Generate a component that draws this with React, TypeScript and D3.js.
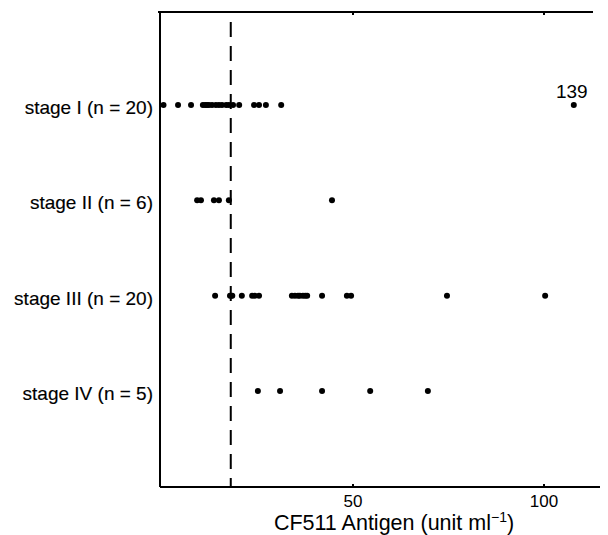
import React from "react";
import * as d3 from "d3";

const stages = ["stage I (n = 20)", "stage II (n = 6)", "stage III (n = 20)", "stage IV (n = 5)"];
const stageI = [0.4, 4.2, 7.6, 10.7, 11.3, 11.8, 12.3, 13.1, 14.1, 14.9, 15.7, 16.8, 17.5, 18.6, 20.2, 24.1, 25.4, 27.2, 31.2, 139];
const stageII = [9.2, 10.2, 13.6, 14.9, 17.5, 44.5];
const stageIII = [13.9, 17.8, 18.1, 18.4, 20.9, 23.6, 24.3, 25.4, 34.0, 34.8, 35.6, 36.1, 36.9, 37.5, 38.0, 41.9, 48.4, 49.5, 74.6, 100.3];
const stageIV = [25.1, 30.9, 41.9, 54.5, 69.6];
const seriesValues = [stageI, stageII, stageIII, stageIV];
const xTicks = [50, 100];
const cutoff = 18;
const axisMax = 115;
const offScaleShownAt = 107.8;
const xLabel = "CF511 Antigen (unit ml";

export default function App() {
  const W = 608, H = 535;
  const x = d3.scaleLinear().domain([0, 100]).range([162, 544]);
  const y = d3.scalePoint<string>().domain(stages).range([105, 391]);
  const top = 12, bottom = 487, left = 160, right = 600;
  const font = "'Liberation Sans', Arial, Helvetica, sans-serif";
  return (
    <svg width={W} height={H} style={{ position: "absolute", left: 0, top: 0, background: "#fff" }}>
      <g stroke="#000" strokeWidth={2} fill="none">
        <line x1={left - 2} y1={top} x2={593} y2={top} />
        <line x1={left} y1={top} x2={left} y2={bottom} />
        <line x1={left} y1={bottom} x2={right} y2={bottom} />
        {xTicks.map((t) => (
          <g key={t}>
            <line x1={x(t)} y1={bottom} x2={x(t)} y2={bottom - 3} />
            <line x1={x(t)} y1={top} x2={x(t)} y2={top + 3} />
          </g>
        ))}
        <line x1={x(cutoff)} y1={top + 10} x2={x(cutoff)} y2={bottom} strokeDasharray="15,9" />
      </g>
      {xTicks.map((t) => (
        <text key={t} x={x(t)} y={507} textAnchor="middle" fontFamily={font} fontSize={17}>{t}</text>
      ))}
      <text x={394} y={530} textAnchor="middle" fontFamily={font} fontSize={21.5}>
        {xLabel}
        <tspan dy={-8} fontSize={14}>−1</tspan>
        <tspan dy={8}>)</tspan>
      </text>
      {stages.map((s, i) => (
        <g key={s}>
          <text x={153} y={(y(s) as number) + 9} textAnchor="end" fontFamily={font} fontSize={19} stroke="#000" strokeWidth={0.15}>{s}</text>
          {seriesValues[i].map((v, j) => {
            const off = v > axisMax;
            const shown = off ? offScaleShownAt : v;
            return (
              <g key={j}>
                <circle cx={x(shown)} cy={y(s) as number} r={3} fill="#000" />
                {off && (
                  <text x={x(shown) - 2} y={(y(s) as number) - 7} textAnchor="middle" fontFamily={font} fontSize={19}>{v}</text>
                )}
              </g>
            );
          })}
        </g>
      ))}
    </svg>
  );
}
